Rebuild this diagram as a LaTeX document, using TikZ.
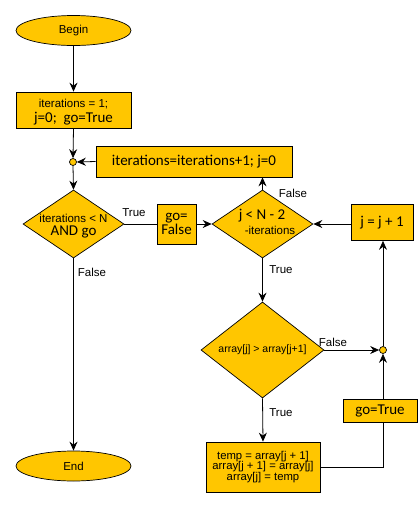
\documentclass[tikz,border=0pt]{standalone}
\usepackage{fontspec}
\setmainfont{Liberation Sans}
\newfontfamily\calfont{Carlito}
\usetikzlibrary{shapes.geometric,arrows.meta}
\definecolor{gold}{RGB}{255,198,0}
\begin{document}
\begin{tikzpicture}[x=1pt,y=-1pt,
  every node/.style={font=\fontsize{11.5}{13}\selectfont},
  shp/.style={draw=black, fill=gold, line width=0.7pt, inner sep=0pt},
  boxr/.style={shp, rectangle, align=center},
  oval/.style={shp, ellipse, minimum width=115pt, minimum height=30pt},
  dia/.style={shp, diamond},
  junc/.style={shp, circle, minimum size=7pt},
  big/.style={font=\calfont\fontsize{15}{16}\selectfont},
  arr/.style={-{Stealth[length=9pt,width=8pt,inset=3pt]}, line width=0.8pt},
  ln/.style={line width=0.8pt},
  lbl/.style={font=\fontsize{11.5}{13}\selectfont, inner sep=0pt}]
\useasboundingbox (0,0) rectangle (420,507);

% nodes
\node[oval] (begin) at (73.5,30.5) {Begin};
\node[boxr, minimum width=115pt, minimum height=36pt] (init) at (73.5,110) {};
\node[lbl] (inita) at (73.5,104) {iterations = 1;};
\node[lbl, big] (initb) at (73.5,119) {j=0;\ \ go=True};
\node[junc] (j1) at (73,162) {};
\node[boxr, big, minimum width=196pt, minimum height=31pt] (inc) at (194,161.5) {iterations=iterations+1; j=0};
\node[dia, minimum width=101pt, minimum height=68pt] (d1) at (73.5,224) {};
\node[lbl] (d1a) at (73.5,218) {iterations < N};
\node[lbl, big] (d1b) at (73.5,232) {AND go};
\node[boxr, big, minimum width=39pt, minimum height=40pt] (gof) at (176.5,224) {go=\\[-2pt]False};
\node[dia, minimum width=101pt, minimum height=68pt] (d2) at (262.5,224) {};
\node[lbl, big] (d2a) at (262,216) {j < N - 2};
\node[lbl] (d2b) at (270,230) {-iterations};
\node[boxr, big, minimum width=62pt, minimum height=36pt] (jinc) at (382,222.5) {j = j + 1};
\node[dia, minimum width=123pt, minimum height=96pt] (d3) at (262.5,350) {};
\node[lbl, font=\fontsize{10.5}{12}\selectfont] (d3a) at (262.5,350) {array[j] > array[j+1]};
\node[junc] (j2) at (383,350) {};
\node[boxr, big, minimum width=74pt, minimum height=23pt] (got) at (380,410.5) {go=True};
\node[boxr, minimum width=114pt, minimum height=50pt, font=\fontsize{11.3}{10.8}\selectfont] (temp) at (263,467)
  {temp = array[j + 1]\\array[j + 1] = array[j]\\array[j] = temp};
\node[oval] (end) at (73.5,466) {End};

% labels
\node[lbl] (lt1) at (134,213) {True};
\node[lbl] (lf1) at (92,272) {False};
\node[lbl] (lf2) at (293,193) {False};
\node[lbl] (lt2) at (281,270) {True};
\node[lbl] (lf3) at (333,342) {False};
\node[lbl] (lt3) at (281,413) {True};

% connectors
\draw[arr] (begin.south) -- (init.north);
\draw[arr] (init.south) -- (j1.north);
\draw[arr] (inc.west) -- (j1.east);
\draw[arr] (j1.south) -- (d1.north);
\draw[ln] (d1.east) -- (gof.west);
\draw[arr] (gof.east) -- (d2.west);
\draw[arr] (d2.north) -- (d2.north |- inc.south);
\draw[arr] (jinc.west |- d2.east) -- (d2.east);
\draw[arr] (d2.south) -- (d3.north);
\draw[arr] (d3.east) -- (j2.west);
\draw[arr] (j2.north) -- (j2.north |- jinc.south);
\draw[arr] (got.north -| j2.center) -- (j2.south);
\draw[arr] (d3.south) -- (temp.north);
\draw[ln] (temp.east) -| (got.south -| j2.center);
\draw[arr] (d1.south) -- (end.north);
\end{tikzpicture}
\end{document}
